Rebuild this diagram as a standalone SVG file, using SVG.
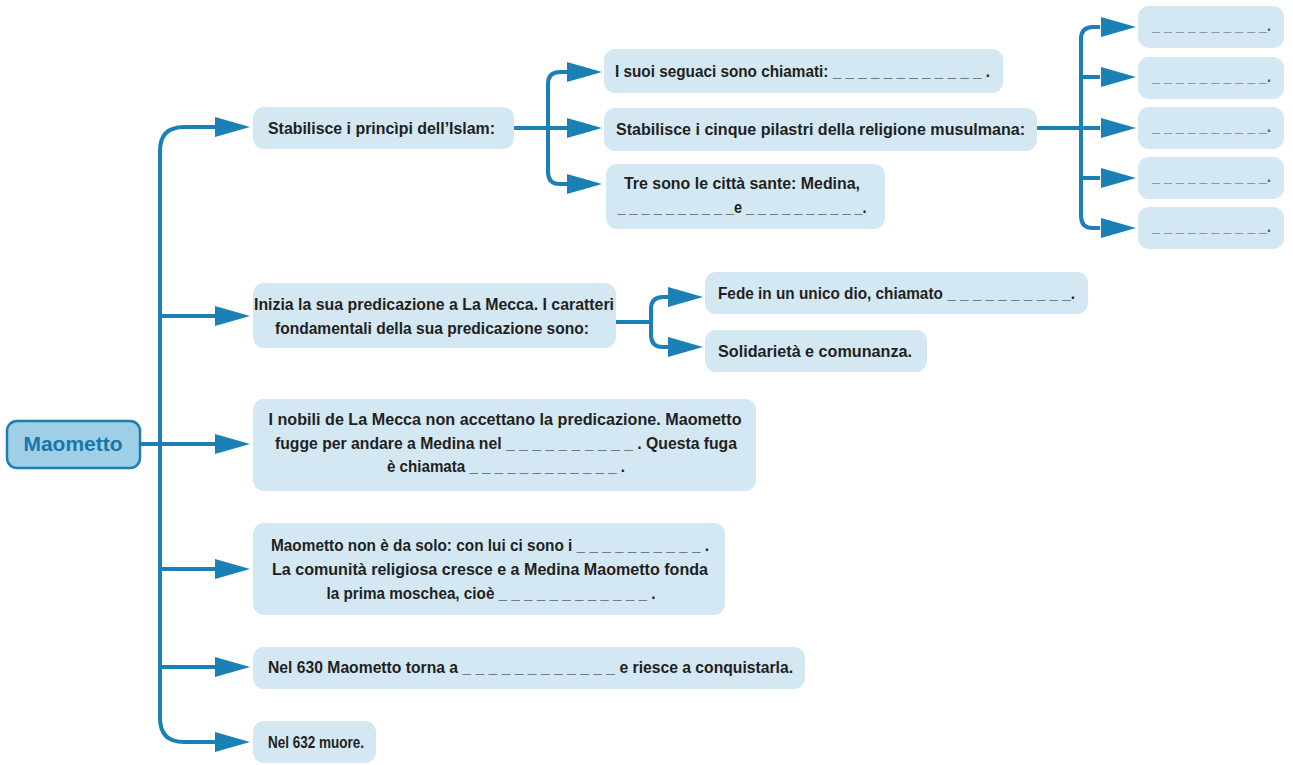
<svg xmlns="http://www.w3.org/2000/svg" xmlns:xlink="http://www.w3.org/1999/xlink" width="1293" height="765" viewBox="0 0 1293 765">
<style>
.box{fill:#d3e8f3}
.t{font-family:"Liberation Sans",Arial,sans-serif;font-weight:bold;font-size:17px;fill:#231f20}
.c{text-anchor:middle}
.g{fill:#58595b}
.conn{fill:none;stroke:#1a80b6;stroke-width:4}
.ah{fill:#1a80b6}
.main{fill:#9fcfe7;stroke:#1a7fb0;stroke-width:2.5}
.mt{font-family:"Liberation Sans",Arial,sans-serif;font-weight:bold;font-size:20px;fill:#1a75a8;text-anchor:middle}
</style>
<defs>
<path id="ah" d="M-35,-10 L0,0 L-35,10 Z"/>
</defs>
<rect width="1293" height="765" fill="#ffffff"/>
<g id="connectors">
<path class="conn" d="M140,444 H215"/>
<path class="conn" d="M215,127 H184 Q160,127 160,151 V718 Q160,742 184,742 H215"/>
<path class="conn" d="M160,316 H215 M160,569 H215 M160,667 H215"/>
<path class="conn" d="M514,128 H567"/>
<path class="conn" d="M567,72 H560 Q548,72 548,84 V172 Q548,184 560,184 H567"/>
<path class="conn" d="M1037,128 H1100"/>
<path class="conn" d="M1100,27 H1093 Q1081,27 1081,39 V216 Q1081,228 1093,228 H1100"/>
<path class="conn" d="M1081,77 H1100 M1081,178 H1100"/>
<path class="conn" d="M616,322 H651"/>
<path class="conn" d="M670,297 H663 Q651,297 651,309 V335 Q651,347 663,347 H670"/>
<g class="ah">
<use xlink:href="#ah" x="250" y="127"/>
<use xlink:href="#ah" x="250" y="316"/>
<use xlink:href="#ah" x="250" y="444"/>
<use xlink:href="#ah" x="250" y="569"/>
<use xlink:href="#ah" x="250" y="667"/>
<use xlink:href="#ah" x="250" y="742"/>
<use xlink:href="#ah" x="602" y="72"/>
<use xlink:href="#ah" x="602" y="128"/>
<use xlink:href="#ah" x="602" y="184"/>
<use xlink:href="#ah" x="1136" y="27"/>
<use xlink:href="#ah" x="1136" y="77"/>
<use xlink:href="#ah" x="1136" y="128"/>
<use xlink:href="#ah" x="1136" y="178"/>
<use xlink:href="#ah" x="1136" y="228"/>
<use xlink:href="#ah" x="703" y="297"/>
<use xlink:href="#ah" x="703" y="347"/>
</g>
</g>
<g id="maometto">
<rect class="main" x="7" y="421" width="133" height="47" rx="10"/>
<text class="mt" x="73" y="451" textLength="99" lengthAdjust="spacingAndGlyphs">Maometto</text>
</g>
<g id="principi">
<rect class="box" x="253" y="107" width="261" height="42" rx="11"/>
<text class="t" x="268" y="134" textLength="227" lengthAdjust="spacingAndGlyphs">Stabilisce i princìpi dell’Islam:</text>
</g>
<g id="seguaci">
<rect class="box" x="604" y="49" width="399" height="44" rx="11"/>
<text class="t" x="615" y="77" textLength="375" lengthAdjust="spacingAndGlyphs">I suoi seguaci sono chiamati:  _ _ _ _ _ _ _ _ _ _ _ _ .</text>
</g>
<g id="pilastri">
<rect class="box" x="604" y="108" width="433" height="43" rx="11"/>
<text class="t" x="616" y="135" textLength="409" lengthAdjust="spacingAndGlyphs">Stabilisce i cinque pilastri della religione musulmana:</text>
</g>
<g id="citta">
<rect class="box" x="606" y="164" width="279" height="65" rx="11"/>
<text class="t c" x="742" y="189" textLength="236" lengthAdjust="spacingAndGlyphs">Tre sono le città sante: Medina,</text>
<text class="t c" x="742" y="213" textLength="249" lengthAdjust="spacingAndGlyphs">_ _ _ _ _ _ _ _ _ _e _ _ _ _ _ _ _ _ _ _.</text>
</g>
<g id="pilastro1">
<rect class="box" x="1138" y="6" width="146" height="42" rx="11"/>
<text class="t g" x="1152" y="31" textLength="119" lengthAdjust="spacingAndGlyphs">_ _ _ _ _ _ _ _ _ _.</text>
</g>
<g id="pilastro2">
<rect class="box" x="1138" y="57" width="146" height="42" rx="11"/>
<text class="t g" x="1152" y="82" textLength="119" lengthAdjust="spacingAndGlyphs">_ _ _ _ _ _ _ _ _ _.</text>
</g>
<g id="pilastro3">
<rect class="box" x="1138" y="107" width="146" height="42" rx="11"/>
<text class="t g" x="1152" y="132" textLength="119" lengthAdjust="spacingAndGlyphs">_ _ _ _ _ _ _ _ _ _.</text>
</g>
<g id="pilastro4">
<rect class="box" x="1138" y="157" width="146" height="42" rx="11"/>
<text class="t g" x="1152" y="182" textLength="119" lengthAdjust="spacingAndGlyphs">_ _ _ _ _ _ _ _ _ _.</text>
</g>
<g id="pilastro5">
<rect class="box" x="1138" y="207" width="146" height="42" rx="11"/>
<text class="t g" x="1152" y="232" textLength="119" lengthAdjust="spacingAndGlyphs">_ _ _ _ _ _ _ _ _ _.</text>
</g>
<g id="predicazione">
<rect class="box" x="253" y="283" width="363" height="65" rx="11"/>
<text class="t c" x="434" y="310" textLength="360" lengthAdjust="spacingAndGlyphs">Inizia la sua predicazione a La Mecca. I caratteri</text>
<text class="t c" x="432" y="334" textLength="314" lengthAdjust="spacingAndGlyphs">fondamentali della sua predicazione sono:</text>
</g>
<g id="fede">
<rect class="box" x="705" y="272" width="383" height="42" rx="11"/>
<text class="t" x="718" y="299" textLength="357" lengthAdjust="spacingAndGlyphs">Fede in un unico dio, chiamato _ _ _ _ _ _ _ _ _ _.</text>
</g>
<g id="solidarieta">
<rect class="box" x="705" y="330" width="222" height="42" rx="11"/>
<text class="t" x="718" y="357" textLength="194" lengthAdjust="spacingAndGlyphs">Solidarietà e comunanza.</text>
</g>
<g id="egira">
<rect class="box" x="253" y="399" width="503" height="92" rx="11"/>
<text class="t c" x="505" y="425" textLength="473" lengthAdjust="spacingAndGlyphs">I nobili de La Mecca non accettano la predicazione. Maometto</text>
<text class="t c" x="506" y="449" textLength="462" lengthAdjust="spacingAndGlyphs">fugge per andare a Medina nel  _ _ _ _ _ _ _ _ _ _ .  Questa fuga</text>
<text class="t c" x="506" y="472" textLength="238" lengthAdjust="spacingAndGlyphs">è chiamata _ _ _ _ _ _ _ _ _ _ _ _ .</text>
</g>
<g id="comunita">
<rect class="box" x="253" y="523" width="472" height="92" rx="11"/>
<text class="t c" x="490" y="551" textLength="438" lengthAdjust="spacingAndGlyphs">Maometto non è da solo: con lui ci sono i _ _ _ _ _ _ _ _ _ _ .</text>
<text class="t c" x="490" y="575" textLength="436" lengthAdjust="spacingAndGlyphs">La comunità religiosa cresce e a Medina Maometto fonda</text>
<text class="t c" x="491" y="599" textLength="329" lengthAdjust="spacingAndGlyphs">la prima moschea, cioè _ _ _ _ _ _ _ _ _ _ _ _ .</text>
</g>
<g id="nel630">
<rect class="box" x="253" y="647" width="552" height="42" rx="11"/>
<text class="t" x="268" y="673" textLength="525" lengthAdjust="spacingAndGlyphs">Nel 630 Maometto torna a _ _ _ _ _ _ _ _ _ _ _ _ e riesce a conquistarla.</text>
</g>
<g id="nel632">
<rect class="box" x="253" y="721" width="123" height="42" rx="11"/>
<text class="t" x="268" y="748" textLength="96" lengthAdjust="spacingAndGlyphs">Nel 632 muore.</text>
</g>
</svg>
